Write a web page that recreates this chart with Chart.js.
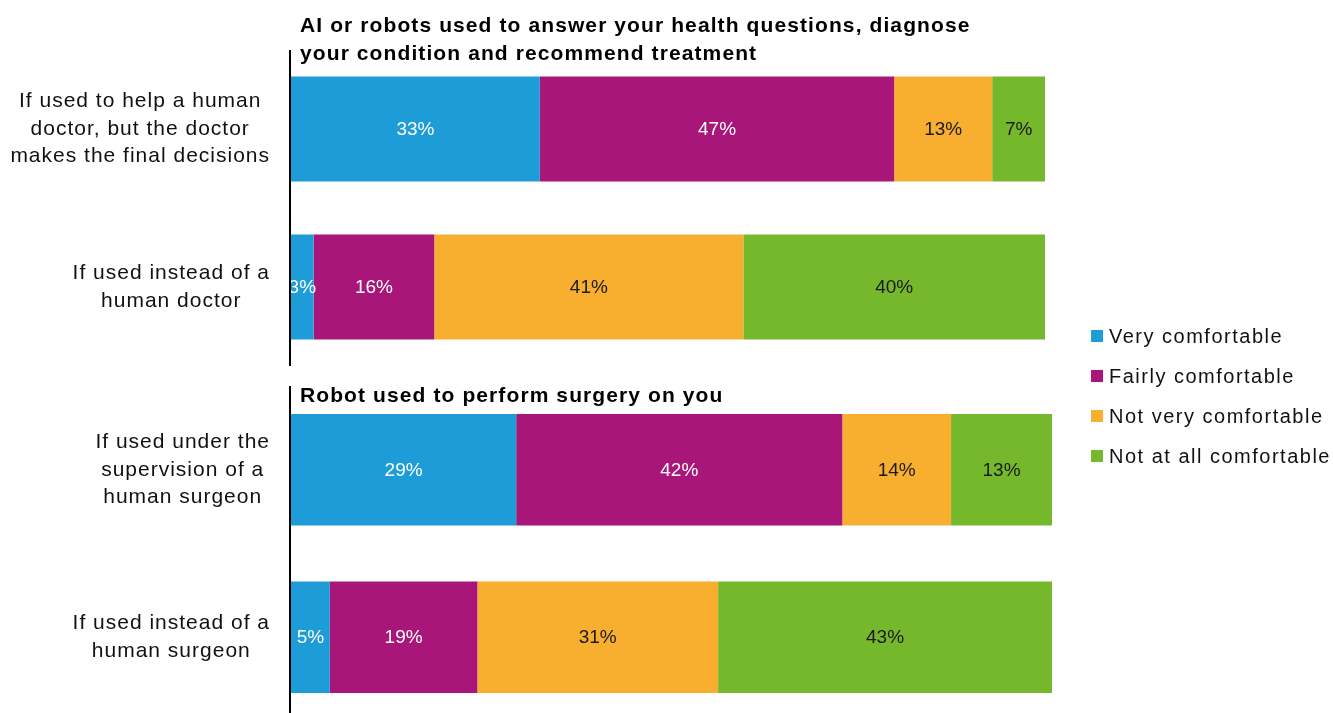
<!DOCTYPE html>
<html>
<head>
<meta charset="utf-8">
<script src="https://cdn.jsdelivr.net/npm/chart.js@4.4.1/dist/chart.umd.min.js"></script>
<style>
  html, body { margin: 0; padding: 0; background: #fff; overflow: hidden; }
  body { width: 1333px; height: 713px; position: relative; font-family: "Liberation Sans", Arial, sans-serif; }
  .panel { position: absolute; left: 0; width: 1333px; }
  #diagPanel { top: 0; height: 366px; }
  #surgPanel { top: 380px; height: 341px; }
  #legend { position: absolute; left: 1091px; top: 316px; }
  #legend .item { height: 40px; display: flex; align-items: center; font-size: 20px; letter-spacing: 1.5px; color: #111; }
  #legend .sw { width: 12px; height: 12px; margin-right: 6px; flex: none; }
</style>
</head>
<body>
<div class="panel" id="diagPanel"><canvas id="diagChart"></canvas></div>
<div class="panel" id="surgPanel"><canvas id="surgChart"></canvas></div>
<div id="legend"></div>

<script>
const FONT = '"Liberation Sans", Arial, sans-serif';

const seriesNames = ['Very comfortable', 'Fairly comfortable', 'Not very comfortable', 'Not at all comfortable'];
const seriesColors = ['#1E9CD7', '#A8167A', '#F8AE2F', '#76B82B'];
const valueLabelColors = ['#ffffff', '#ffffff', '#1a1a1a', '#1a1a1a'];

// AI / robots for diagnosis
const diagTitle = ['AI or robots used to answer your health questions, diagnose', 'your condition and recommend treatment'];
const diagCategories = [
  ['If used to help a human', 'doctor, but the doctor', 'makes the final decisions'],
  ['If used instead of a', 'human doctor']
];
const diagVery = [33, 3];
const diagFairly = [47, 16];
const diagNotVery = [13, 41];
const diagNotAtAll = [7, 40];

// Robot surgery
const surgTitle = ['Robot used to perform surgery on you'];
const surgCategories = [
  ['If used under the', 'supervision of a', 'human surgeon'],
  ['If used instead of a', 'human surgeon']
];
const surgVery = [29, 5];
const surgFairly = [42, 19];
const surgNotVery = [14, 31];
const surgNotAtAll = [13, 43];

// labels, title and the left axis line are drawn by hand
const panelDecor = {
  id: 'panelDecor',
  afterDatasetsDraw(chart, args, opts) {
    const ctx = chart.ctx;
    const area = chart.chartArea;
    ctx.save();

    // percentages in the middle of each segment
    ctx.font = '19px ' + FONT;
    ctx.textAlign = 'center';
    ctx.textBaseline = 'middle';
    chart.data.datasets.forEach((ds, i) => {
      chart.getDatasetMeta(i).data.forEach((bar, j) => {
        ctx.fillStyle = valueLabelColors[i];
        ctx.fillText(ds.data[j] + '%', (bar.x + bar.base) / 2, bar.y + 1);
      });
    });

    // category labels: lines centred, block right-aligned to the axis
    ctx.font = '21px ' + FONT;
    ctx.letterSpacing = '1px';
    ctx.fillStyle = '#111';
    const yScale = chart.scales.y;
    opts.categories.forEach((lines, j) => {
      const widest = Math.max(...lines.map(l => ctx.measureText(l).width));
      const cx = area.left - 21 - widest / 2;
      const cy = yScale.getPixelForValue(j);
      lines.forEach((l, k) => {
        ctx.fillText(l, cx, cy + (k - (lines.length - 1) / 2) * 27.5);
      });
    });

    // panel title above the first bar
    const first = chart.getDatasetMeta(0).data[0];
    const barTop = first.y - first.height / 2;
    ctx.font = 'bold 21px ' + FONT;
    ctx.letterSpacing = '1.1px';
    ctx.fillStyle = '#000';
    ctx.textAlign = 'left';
    ctx.textBaseline = 'alphabetic';
    const n = opts.title.length;
    opts.title.forEach((l, k) => {
      ctx.fillText(l, area.left + 9, barTop - opts.titleGap - (n - 1 - k) * 28);
    });

    // vertical axis line
    ctx.strokeStyle = '#000';
    ctx.lineWidth = 2;
    ctx.beginPath();
    ctx.moveTo(area.left - 1, area.top);
    ctx.lineTo(area.left - 1, area.bottom);
    ctx.stroke();
    ctx.restore();
  }
};

function makePanel(canvasId, title, categories, series, padRight, titleGap) {
  const xMax = series.reduce((s, arr) => s + arr[0], 0);
  return new Chart(document.getElementById(canvasId), {
    type: 'bar',
    data: {
      labels: categories.map(c => c.join(' ')),
      datasets: series.map((vals, i) => ({
        label: seriesNames[i],
        data: vals,
        backgroundColor: seriesColors[i],
        borderWidth: 0,
        barPercentage: 0.665,
        categoryPercentage: 1
      }))
    },
    options: {
      indexAxis: 'y',
      responsive: true,
      maintainAspectRatio: false,
      animation: false,
      layout: { padding: { top: canvasId === 'diagChart' ? 50 : 6, right: padRight, left: 0, bottom: 0 } },
      scales: {
        x: { stacked: true, display: false, min: 0, max: xMax },
        y: {
          stacked: true,
          ticks: { display: false },
          grid: { display: false },
          border: { display: false },
          afterFit: scale => { scale.width = 291; }
        }
      },
      plugins: {
        legend: { display: false },
        tooltip: { enabled: false },
        panelDecor: { title: title, categories: categories, titleGap: titleGap }
      }
    },
    plugins: [panelDecor]
  });
}

makePanel('diagChart', diagTitle, diagCategories,
  [diagVery, diagFairly, diagNotVery, diagNotAtAll], 288, 16);
makePanel('surgChart', surgTitle, surgCategories,
  [surgVery, surgFairly, surgNotVery, surgNotAtAll], 281, 12);

// shared legend
const legendEl = document.getElementById('legend');
seriesNames.forEach((name, i) => {
  const item = document.createElement('div');
  item.className = 'item';
  const sw = document.createElement('span');
  sw.className = 'sw';
  sw.style.background = seriesColors[i];
  item.appendChild(sw);
  item.appendChild(document.createTextNode(name));
  legendEl.appendChild(item);
});
</script>
</body>
</html>
